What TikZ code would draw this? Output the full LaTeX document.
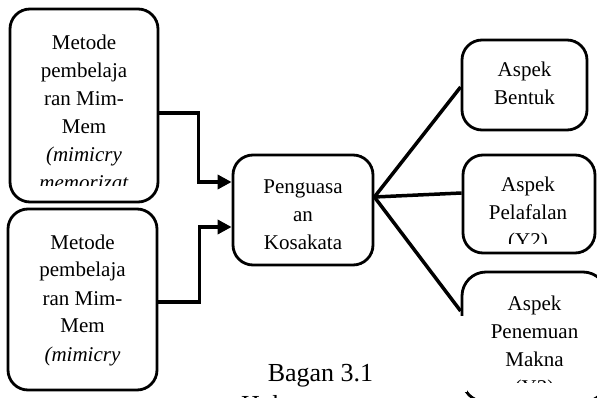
\documentclass[tikz,border=0pt]{standalone}
\usepackage{fontspec}
\setmainfont{Liberation Serif}
\usetikzlibrary{arrows.meta}
\begin{document}
\begin{tikzpicture}[x=1pt,y=-1pt,
  box/.style={draw,line width=2.8pt,rounded corners=20pt,inner sep=0pt},
  conn/.style={line width=3.5pt},
  arr/.style={conn,-{Triangle[length=14pt,width=14pt]}},
  txt/.style={inner sep=0pt,anchor=base,font=\fontsize{21}{28}\selectfont},
  captxt/.style={inner sep=0pt,font=\fontsize{26}{30}\selectfont}]
\useasboundingbox (0,0) rectangle (597,398);
\clip (0,0) rectangle (597,398);
% boxes
\node[box,minimum width=148pt,minimum height=193pt] (b1) at (84,105.5) {};
\node[box,minimum width=149pt,minimum height=181pt] (b2) at (82.5,299.5) {};
\node[box,minimum width=140pt,minimum height=110pt] (P) at (303,210) {};
\node[box,minimum width=125pt,minimum height=90pt] (bb) at (524.5,85) {};
\node[box,minimum width=132pt,minimum height=98pt] (bp) at (529,204) {};
\node[box,rounded corners=24pt,minimum width=145pt,minimum height=130pt] (bm) at (534.5,337) {};
% texts
\begin{scope}
\clip (12,11) rectangle (156,186);
\node[txt] (t1) at (84,50) {\parbox[t]{140pt}{\centering Metode\\pembelaja\\ran Mim-\\Mem\\\textit{(mimicry}\\\textit{memorizat}}};
\end{scope}
\node[txt] (t2) at (82.5,249) {\parbox[t]{140pt}{\centering Metode\\pembelaja\\ran Mim-\\Mem\\\textit{(mimicry}}};
\node[txt] (tp) at (303,194) {\parbox[t]{130pt}{\centering Penguasa\\an\\Kosakata}};
\node[txt] (tb) at (524.5,77) {\parbox[t]{120pt}{\centering Aspek\\Bentuk}};
\begin{scope}
\clip (465,157) rectangle (593,244);
\node[txt] (tl) at (528,192) {\parbox[t]{125pt}{\centering Aspek\\Pelafalan\\(Y2)}};
\end{scope}
\begin{scope}
\clip (465,274) rectangle (597,382.5);
\node[txt] (tm) at (534.5,310) {\parbox[t]{130pt}{\centering Aspek\\Penemuan\\Makna\\(Y3)}};
\end{scope}
% connectors
\draw[arr] (b1.east |- 0,113) -- ++(39,0) |- (P.west |- 0,182);
\draw[arr] (b2.east |- 0,302) -- ++(41,0) |- (P.west |- 0,227);
\coordinate (pj) at (P.east |- 0,197);
\draw[conn] (pj) -- (bb.west |- 0,87);
\draw[conn] (pj) -- (bp.west |- 0,193);
\draw[conn] (pj) -- (bm.west |- 0,311);
% caption
\fill[white] (195,316) rectangle (467,392);
\node[captxt,anchor=base] (cap1) at (320.5,381) {Bagan 3.1};
\node[captxt,anchor=base west] (cap2) at (241,413) {Hubungan antar};
\end{tikzpicture}
\end{document}
